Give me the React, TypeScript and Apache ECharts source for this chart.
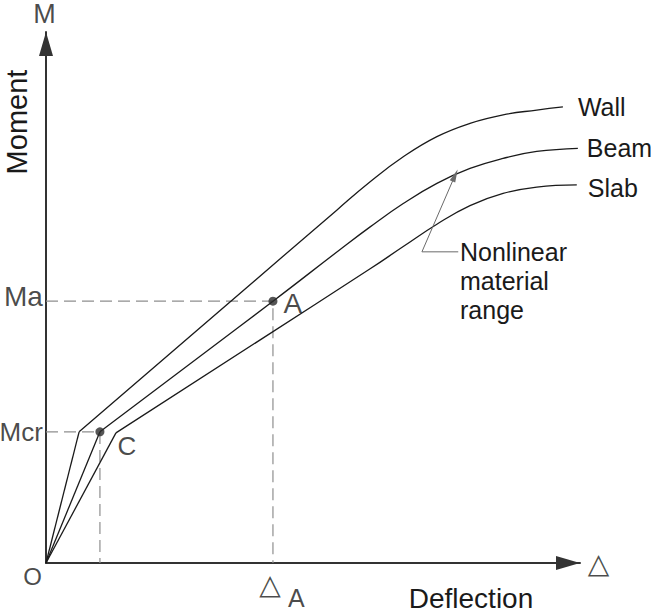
import React, { useEffect, useRef } from 'react';
import * as echarts from 'echarts';

const W = 651;
const H = 613;
const TEXT = '"Liberation Sans", Arial, Helvetica, sans-serif';
const SYMBOL_FONT = '"DejaVu Sans", sans-serif';
const INK = '#1a1a1a';

// axis extents (schematic units)
const xRange = [0, 100];
const yRange = [0, 100];

// characteristic levels
const momentLevelNames = ['Mcr', 'Ma'];
const momentLevels = [24.7, 49.3];
const deflectionA = 42.5;
const pointC = [10.1, 24.7];
const pointA = [42.5, 49.3];
const pointLabels = ['C', 'A'];

// moment–deflection curves: uncracked branch to the knee, then cracked branch bending over
const curveNames = ['Wall', 'Beam', 'Slab'];
const wallLinear = [[0, 0], [6.2, 24.7]];
const wallCurve = [[6.2, 24.7], [54.5, 66.5], [60.7, 71.8], [66.9, 76.5], [73.2, 80.3], [79.4, 82.8], [85.6, 84.4], [91.9, 85.3], [96.8, 85.9]];
const beamLinear = [[0, 0], [10.1, 24.7]];
const beamCurve = [[10.1, 24.7], [42.5, 49.3], [54.9, 58.9], [60.7, 63.3], [66.9, 67.7], [73.2, 71.5], [79.4, 74.3], [85.6, 76.2], [91.9, 77.5], [99.6, 78.1]];
const slabLinear = [[0, 0], [13.1, 24.5]];
const slabCurve = [[13.1, 24.5], [60.7, 55.4], [66.9, 59.6], [73.2, 63.8], [79.4, 67.3], [85.6, 69.6], [91.9, 70.8], [99.4, 71.2]];

// annotation leader (end of text underline -> corner -> arrow tip on the Beam curve)
const annotationLeader = [[77.2, 58.6], [70.4, 58.6], [76.6, 73.0]];
const annotationText = ['Nonlinear', 'material', 'range'];

const ARROW_HEAD = 'path://M5,0L10,20L0,20Z';

function buildOption(arrowRotate: number) {
  const linear = [wallLinear, beamLinear, slabLinear];
  const curves = [wallCurve, beamCurve, slabCurve];
  const endCfg = [
    { distance: 15, offset: [0, 0] },
    { distance: 9, offset: [0, 0] },
    { distance: 11, offset: [0, 3] },
  ];
  const lineStyle = { color: INK, width: 1.3 };
  const dashStyle = { color: '#8e8e8e', width: 1.2, type: [12, 6] };

  const series: any[] = [
    {
      type: 'line',
      data: [[0, momentLevels[0]], pointC, [pointC[0], 0]],
      symbol: 'none',
      lineStyle: dashStyle,
      silent: true,
      z: 1,
    },
    {
      type: 'line',
      data: [[0, momentLevels[1]], pointA, [deflectionA, 0]],
      symbol: 'none',
      lineStyle: dashStyle,
      silent: true,
      z: 1,
    },
  ];
  linear.forEach((d) => {
    series.push({ type: 'line', data: d, symbol: 'none', smooth: false, lineStyle, clip: false, z: 2 });
  });
  curves.forEach((d, i) => {
    series.push({
      type: 'line',
      name: curveNames[i],
      data: d,
      symbol: 'none',
      smooth: 0.45,
      lineStyle,
      clip: false,
      z: 2,
      endLabel: {
        show: true,
        formatter: curveNames[i],
        fontFamily: TEXT,
        fontSize: 25,
        color: INK,
        distance: endCfg[i].distance,
        offset: endCfg[i].offset,
      },
    });
  });
  series.push({
    type: 'line',
    data: annotationLeader.map((p, i) =>
      i === annotationLeader.length - 1
        ? {
            value: p,
            symbol: ARROW_HEAD,
            symbolSize: [6, 13],
            symbolKeepAspect: false,
            symbolRotate: arrowRotate,
            symbolOffset: [0, 0],
            itemStyle: { color: '#6a6a6a' },
          }
        : { value: p, symbol: 'none' }
    ),
    showSymbol: true,
    showAllSymbol: true,
    lineStyle: { color: '#6a6a6a', width: 1 },
    clip: false,
    z: 3,
  });
  series.push({
    type: 'scatter',
    data: [
      { value: pointC, label: { formatter: pointLabels[0], fontSize: 26, offset: [27, 14] } },
      { value: pointA, label: { formatter: pointLabels[1], fontSize: 28, offset: [20, 2] } },
    ],
    symbolSize: 9,
    itemStyle: { color: '#2b2b2b' },
    label: { show: true, position: 'inside', fontFamily: TEXT, color: INK },
    z: 5,
  });
  series.push({
    type: 'scatter',
    symbolSize: 0.1,
    itemStyle: { color: 'rgba(0,0,0,0)' },
    silent: true,
    clip: false,
    label: { show: true, fontFamily: TEXT, color: INK, fontSize: 26 },
    z: 6,
    data: [
      { value: [0, momentLevels[0]], label: { formatter: momentLevelNames[0], position: 'left', distance: 3, fontSize: 26 } },
      { value: [0, momentLevels[1]], label: { formatter: momentLevelNames[1], position: 'left', distance: 3, fontSize: 28, offset: [0, -5] } },
      { value: [0, 0], label: { formatter: 'O', position: 'inside', fontSize: 24, offset: [-13.5, 13] } },
      { value: [0, yRange[1]], label: { formatter: 'M', position: 'inside', fontSize: 27, offset: [-1.5, -18] } },
      { value: [deflectionA, 0], label: { formatter: '△', position: 'inside', fontFamily: SYMBOL_FONT, fontSize: 28, offset: [-3, 21] } },
      { value: [deflectionA, 0], label: { formatter: 'A', position: 'inside', fontSize: 25, offset: [23.5, 35] } },
      { value: [xRange[1], 0], label: { formatter: '△', position: 'inside', fontFamily: SYMBOL_FONT, fontSize: 28, offset: [18.5, 0] } },
    ],
  });

  const axisLine = (show: boolean) => ({
    show,
    symbol: ['none', 'triangle'],
    symbolSize: [14, 24],
    symbolOffset: [0, -12],
    lineStyle: { color: '#333', width: 2 },
  });

  return {
    animation: false,
    backgroundColor: '#ffffff',
    grid: { left: 46, right: W - 580, top: 32, bottom: H - 563, containLabel: false },
    xAxis: {
      type: 'value',
      min: xRange[0],
      max: xRange[1],
      axisLine: axisLine(true),
      axisTick: { show: false },
      axisLabel: { show: false },
      splitLine: { show: false },
    },
    yAxis: {
      type: 'value',
      min: yRange[0],
      max: yRange[1],
      axisLine: axisLine(true),
      axisTick: { show: false },
      axisLabel: { show: false },
      splitLine: { show: false },
    },
    graphic: [
      {
        type: 'text',
        x: 17,
        y: 122,
        rotation: Math.PI / 2,
        style: { text: 'Moment', fontFamily: TEXT, fontSize: 29, fill: INK, align: 'center', verticalAlign: 'middle' },
      },
      {
        type: 'text',
        x: 471,
        y: 598,
        style: { text: 'Deflection', fontFamily: TEXT, fontSize: 28, fill: INK, align: 'center', verticalAlign: 'middle' },
      },
      {
        type: 'text',
        x: 460,
        y: 237,
        style: {
          text: annotationText.join('\n'),
          fontFamily: TEXT,
          fontSize: 25,
          lineHeight: 29,
          fill: INK,
          align: 'left',
          verticalAlign: 'top',
        },
      },
    ],
    series,
  };
}

export default function App() {
  const ref = useRef<HTMLDivElement>(null);
  useEffect(() => {
    if (!ref.current) return;
    const chart = echarts.init(ref.current, null, { renderer: 'svg' });
    chart.setOption(buildOption(0));
    const n = annotationLeader.length;
    const p0 = chart.convertToPixel({ gridIndex: 0 }, annotationLeader[n - 2]) as number[];
    const p1 = chart.convertToPixel({ gridIndex: 0 }, annotationLeader[n - 1]) as number[];
    const ang = Math.atan2(p1[0] - p0[0], -(p1[1] - p0[1]));
    chart.setOption(buildOption((-ang * 180) / Math.PI));
    return () => chart.dispose();
  }, []);
  return (
    <div
      ref={ref}
      style={{ position: 'absolute', left: 0, top: 0, width: W, height: H, background: '#fff' }}
    />
  );
}
